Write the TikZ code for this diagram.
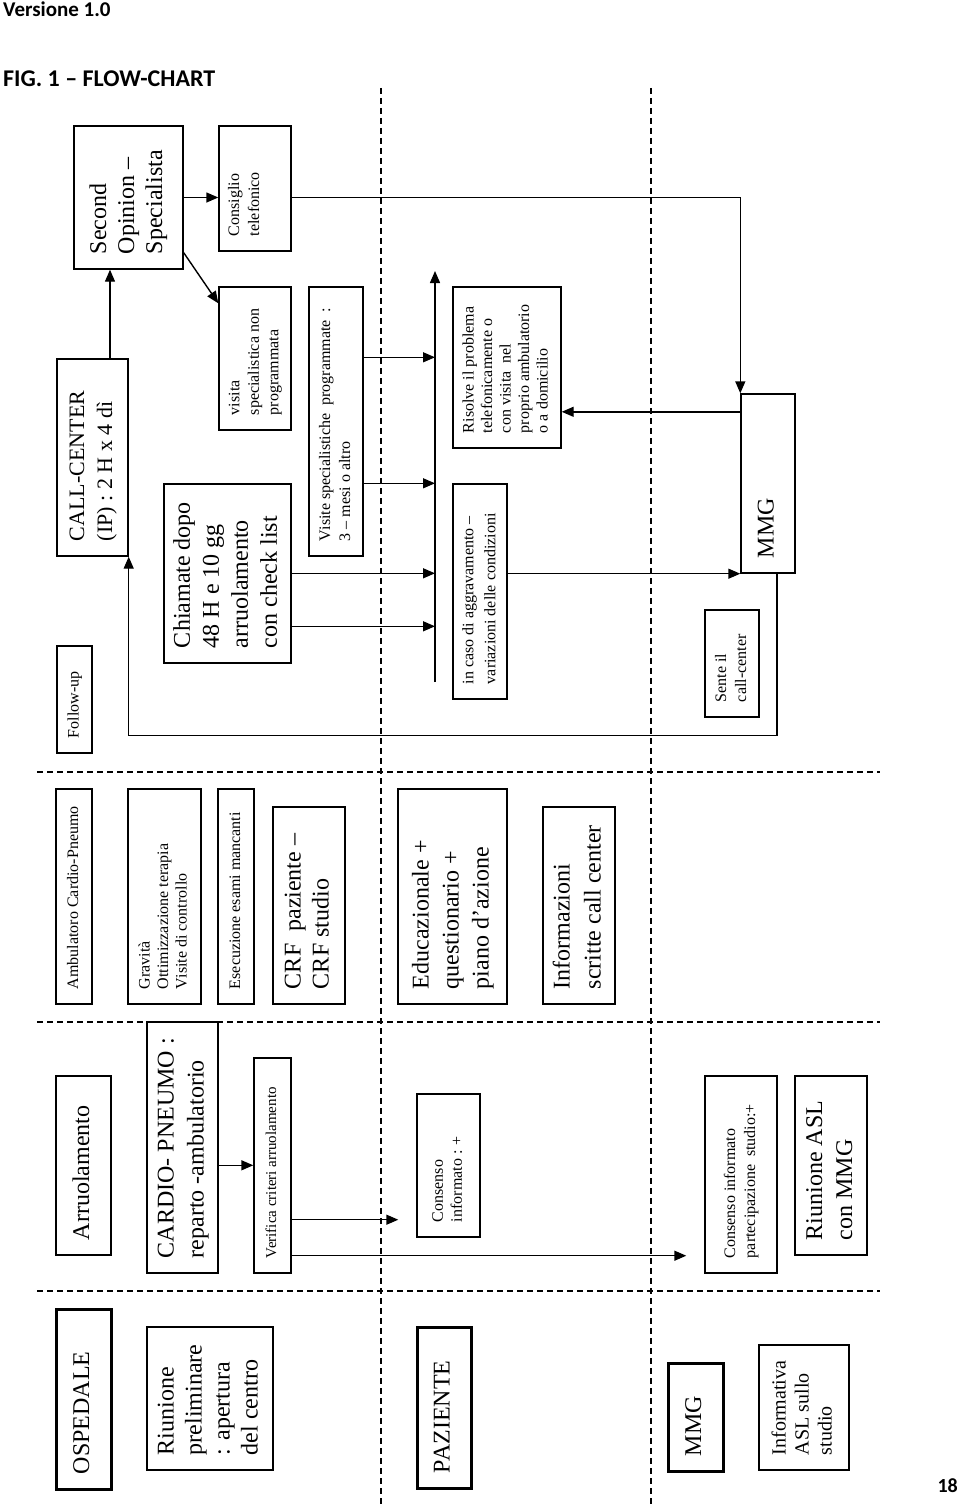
\documentclass[tikz,border=0pt]{standalone}
\usepackage{fontspec}
\setmainfont{Liberation Serif}
\newfontfamily\headfont{Carlito}
\usetikzlibrary{arrows.meta,calc}
\newcommand\bnode[9][]{\node[bx,#1,minimum width=#5pt,minimum height=#6pt] (#2) at (#3,#4) {\rotatebox{90}{\makebox[\dimexpr#6pt-30pt\relax][l]{\fontsize{#7}{#8}\selectfont\begin{tabular}{@{}l@{}}#9\end{tabular}}}};}
\begin{document}
\begin{tikzpicture}[x=1pt,y=-1pt,
  bx/.style={draw,line width=1.4pt,inner sep=0pt,rectangle},
  heavy/.style={line width=3pt},
  arw/.style={line width=1.4pt,-{Triangle[length=12pt,width=10pt]}},
  lane/.style={line width=1.3pt,dash pattern=on 6pt off 4pt},
  head/.style={anchor=base west,inner sep=0pt}]
\useasboundingbox (0,0) rectangle (960,1509);

% headings
\node[head,font={\headfont\bfseries\fontsize{21}{25}\selectfont}] (ver) at (3,17) {Versione 1.0};
\node[head,font={\headfont\bfseries\fontsize{24}{28}\selectfont}] (fig) at (3,87) {FIG. 1 – FLOW-CHART};
\node[anchor=base east,inner sep=0pt,font={\headfont\bfseries\fontsize{20}{24}\selectfont}] (pg) at (958,1492) {18};

% swim lanes
\draw[lane] (37,772) -- (880,772);
\draw[lane] (37,1022) -- (880,1022);
\draw[lane] (37,1291) -- (880,1291);
\draw[lane] (381,88) -- (381,1505);
\draw[lane] (651,88) -- (651,1505);

% follow-up section
\bnode{so}{128.5}{197.5}{109}{143}{24}{28}{Second\\Opinion –\\Specialista}
\bnode{ct}{255}{188.5}{72}{125}{16}{20}{Consiglio\\telefonico\\\mbox{}}
\bnode{vs}{255}{358.5}{72}{143}{16}{19.5}{visita\\specialistica non\\programmata}
\bnode{vsp}{336}{421.5}{54}{269}{16}{20}{Visite specialistiche \ programmate \ :\\3 – mesi o altro}
\bnode{cc}{92.5}{457.5}{71}{197}{22}{28}{CALL-CENTER\\(IP) : 2 H x 4 dì}
\bnode{ch}{227.5}{573.5}{127}{179}{24}{29}{Chiamate dopo\\48 H e 10 gg\\arruolamento\\con check list}
\bnode{rs}{507}{367.5}{108}{161}{16}{18.5}{Risolve il problema\\telefonicamente o\\con visita \ nel\\proprio ambulatorio\\o a domicilio}
\bnode{ag}{480}{591.5}{54}{215}{16}{22}{in caso di aggravamento –\\variazioni delle condizioni}
\bnode{se}{732}{663.5}{54}{107}{16}{20}{Sente il\\call-center}
\bnode{fu}{74.5}{699.5}{35}{107}{16}{20}{Follow-up}
\bnode{mmgc}{768}{483.5}{54}{179}{24}{28}{MMG}

% ambulatorio section
\bnode{am}{74}{896.5}{36}{215}{16}{20}{Ambulatoro Cardio-Pneumo}
\bnode{gr}{164.5}{896.5}{73}{215}{16}{18.5}{Gravità\\Ottimizzazione terapia\\Visite di controllo}
\bnode{es}{236}{896.5}{36}{215}{16}{20}{Esecuzione esami mancanti}
\bnode{crf}{309}{905.5}{72}{197}{24}{28}{CRF \ paziente –\\CRF studio}
\bnode{ed}{452.5}{896.5}{109}{215}{24}{30}{Educazionale +\\questionario +\\piano d’azione}
\bnode{inf}{579}{905.5}{72}{197}{24}{31}{Informazioni\\scritte call center}

% arruolamento section
\bnode{ar}{83.5}{1165.5}{55}{179}{24}{28}{Arruolamento}
\bnode{cp}{182.5}{1147.5}{71}{251}{24}{30}{CARDIO- PNEUMO :\\reparto -ambulatorio}
\bnode{vf}{272.5}{1165.5}{37}{215}{15}{18}{Verifica criteri arruolamento}
\bnode{ci}{448.5}{1165.5}{63}{143}{16}{19}{Consenso\\informato : +}
\bnode{cpart}{741}{1174.5}{72}{197}{16}{20}{Consenso informato\\partecipazione \ studio:+}
\bnode{asl}{831}{1165.5}{72}{179}{24}{30}{Riunione ASL\\con MMG}

% actors
\bnode[heavy]{osp}{83.5}{1399}{55}{180}{24}{28}{OSPEDALE}
\bnode{rp}{210}{1398.5}{126}{143}{24}{28}{Riunione\\preliminare\\: apertura\\del centro}
\bnode[heavy]{paz}{444}{1407.5}{54}{161}{24}{28}{PAZIENTE}
\bnode[heavy]{mmg}{695.5}{1417}{55}{108}{24}{28}{MMG}
\bnode{ia}{804}{1407.5}{90}{125}{20}{23}{Informativa\\ASL sullo\\studio}

% connectors
\draw[arw] (so.east) -- (so.east -| ct.west);
\draw[arw] ($(so.south east)+(0,-17)$) -- ($(vs.north west)+(0,17)$);
\coordinate (ccT) at ($(cc.north)+(17.5,0)$);
\draw[arw] (ccT) -- (ccT |- so.south);
\coordinate (ctR) at ($(ct.east)+(0,9)$);
\draw[arw] (ctR) -| (mmgc.north west);
\coordinate (mL) at ($(mmgc.north west)+(0,18.5)$);
\draw[arw] (mL) -- (mL -| rs.east);
\draw[arw] (mmgc.south west -| ag.east) -- (mmgc.south west);
\coordinate (mB) at ($(mmgc.south)+(9,0)$);
\draw[arw] (mB) -- ++(0,162) -| (cc.south east);

\coordinate (busT) at (435,271);
\coordinate (busB) at (435,682);
\draw[arw] (busB) -- (busT);
\coordinate (v1) at ($(vsp.north east)+(0,71)$);
\coordinate (v2) at ($(vsp.north east)+(0,197)$);
\coordinate (h1) at ($(ch.north east)+(0,90)$);
\coordinate (h2) at ($(ch.north east)+(0,143)$);
\draw[arw] (v1) -- (v1 -| busT);
\draw[arw] (v2) -- (v2 -| busT);
\draw[arw] (h1) -- (h1 -| busT);
\draw[arw] (h2) -- (h2 -| busT);

\coordinate (c1) at ($(cp.north east)+(0,144)$);
\draw[arw] (c1) -- (c1 -| vf.west);
\coordinate (f1) at ($(vf.south east)+(0,-54)$);
\draw[arw,shorten >=18pt] (f1) -- (f1 -| ci.west);
\coordinate (f2) at ($(vf.south east)+(0,-18)$);
\draw[arw,shorten >=18pt] (f2) -- (f2 -| cpart.west);
\end{tikzpicture}
\end{document}
